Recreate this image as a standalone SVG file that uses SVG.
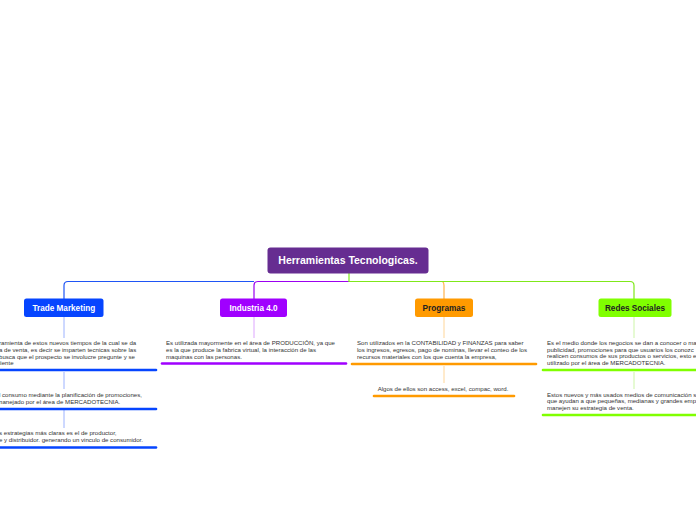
<svg xmlns="http://www.w3.org/2000/svg" width="696" height="520" viewBox="0 0 696 520">
<style>
.t{font-family:"Liberation Sans",Arial,sans-serif;font-size:6.1px;fill:#333}
.nt{font-family:"Liberation Sans",Arial,sans-serif;font-weight:bold;font-size:8.2px;text-anchor:middle}
.ul{fill:none;stroke-width:2.6;stroke-linecap:round}
.c{fill:none;stroke-width:1.2}
</style>
<rect width="696" height="520" fill="#ffffff"/>
<g id="connectors">
<path class="c" stroke="#1f55f5" d="M254,281.5 H68 Q64,281.5 64,285.5 V299"/>
<path class="c" stroke="#9b00f0" d="M349,281.5 H258 Q254,281.5 254,285.5 V299"/>
<path class="c" stroke="#ffb34d" d="M442.5,281.5 Q444,282.5 444,285.5 V299"/>
<path class="c" stroke="#7fe81a" d="M349,273 V281.5 H630 Q634,281.5 634,285.5 V299"/>
<g stroke-width="1">
<path stroke="#9cb2ff" d="M64,317 V338 M64,372 V389 M64,410 V428"/>
<path stroke="#dda6ff" d="M254,317 V338"/>
<path stroke="#ffd699" d="M444,317 V338 M444,366 V383"/>
<path stroke="#cdf5a8" d="M634,317 V338 M634,372 V389"/>
</g>
</g>
<g id="root">
<rect x="267.5" y="247.5" width="161" height="26" rx="3" fill="#662d91"/>
<text x="348" y="264" class="nt" fill="#ffffff" style="font-size:10.5px">Herramientas Tecnologicas.</text>
</g>
<g id="trade-marketing">
<rect x="24" y="298.5" width="79.5" height="18.5" rx="2.5" fill="#0645ff"/>
<text x="63.8" y="310.8" class="nt" fill="#ffffff">Trade Marketing</text>
</g>
<g id="trade-1">
<text class="t" x="-1" y="345">ramienta de estos nuevos tiempos de la cual se da</text>
<text class="t" x="-1" y="352">a de venta, es decir se imparten tecnicas sobre las</text>
<text class="t" x="-1" y="358.5">busca que el prospecto se involucre pregunte y se</text>
<text class="t" x="-1" y="365">liente</text>
<path class="ul" stroke="#0645ff" d="M-2,370 H156"/>
</g>
<g id="trade-2">
<text class="t" x="-1" y="396.5">l consumo mediante la planificación de promociones,</text>
<text class="t" x="-1" y="403.5">nanejado por el área de MERCADOTECNIA.</text>
<path class="ul" stroke="#0645ff" d="M-2,409 H156"/>
</g>
<g id="trade-3">
<text class="t" x="-1" y="434.5">s estrategias más claras es el de productor,</text>
<text class="t" x="-1" y="442">e y distribuidor. generando un vinculo de consumidor.</text>
<path class="ul" stroke="#0645ff" d="M-2,447.5 H156"/>
</g>
<g id="industria">
<rect x="220" y="298.5" width="67" height="18.5" rx="2.5" fill="#a000ff"/>
<text x="253.5" y="310.8" class="nt" fill="#ffffff">Industria 4.0</text>
</g>
<g id="industria-1">
<text class="t" x="166" y="345">Es utilizada mayormente en el área de PRODUCCIÓN, ya que</text>
<text class="t" x="166" y="352">es la que produce la fabrica virtual, la interacción de las</text>
<text class="t" x="166" y="359">maquinas con las personas.</text>
<path class="ul" stroke="#a000ff" d="M162,363.5 H346"/>
</g>
<g id="programas">
<rect x="415" y="298.5" width="58" height="18.5" rx="2.5" fill="#ff9a00"/>
<text x="444" y="310.8" class="nt" fill="#222222">Programas</text>
</g>
<g id="programas-1">
<text class="t" x="357" y="345">Son utilizados en la CONTABILIDAD y FINANZAS  para saber</text>
<text class="t" x="357" y="352">los ingresos, egresos, pago de nominas, llevar el conteo de los</text>
<text class="t" x="357" y="359">recursos materiales con los que cuenta la empresa,</text>
<path class="ul" stroke="#ff9a00" d="M352,364 H536"/>
</g>
<g id="programas-2">
<text class="t" x="443" y="390.5" text-anchor="middle">Algos de ellos son access, excel, compac, word.</text>
<path class="ul" stroke="#ff9a00" d="M374,396 H514"/>
</g>
<g id="redes">
<rect x="598.5" y="298.5" width="73" height="18.5" rx="2.5" fill="#80ff00"/>
<text x="635" y="310.8" class="nt" fill="#222222">Redes Sociales</text>
</g>
<g id="redes-1">
<text class="t" x="547" y="345">Es el medio donde los negocios se dan a conocer o ma</text>
<text class="t" x="547" y="351.5">publicidad, promociones para que usuarios los conozc</text>
<text class="t" x="547" y="358">realicen consumos de sus productos o servicios, esto e</text>
<text class="t" x="547" y="364.5">utilizado por el área de MERCADOTECNIA.</text>
<path class="ul" stroke="#80ff00" d="M543,370 H700"/>
</g>
<g id="redes-2">
<text class="t" x="547" y="396.5">Estos nuevos y más usados medios de comunicación s</text>
<text class="t" x="547" y="403">que ayudan a que pequeñas, medianas y grandes emp</text>
<text class="t" x="547" y="409.5">manejen su estrategia de venta.</text>
<path class="ul" stroke="#80ff00" d="M543,415 H700"/>
</g>
</svg>
